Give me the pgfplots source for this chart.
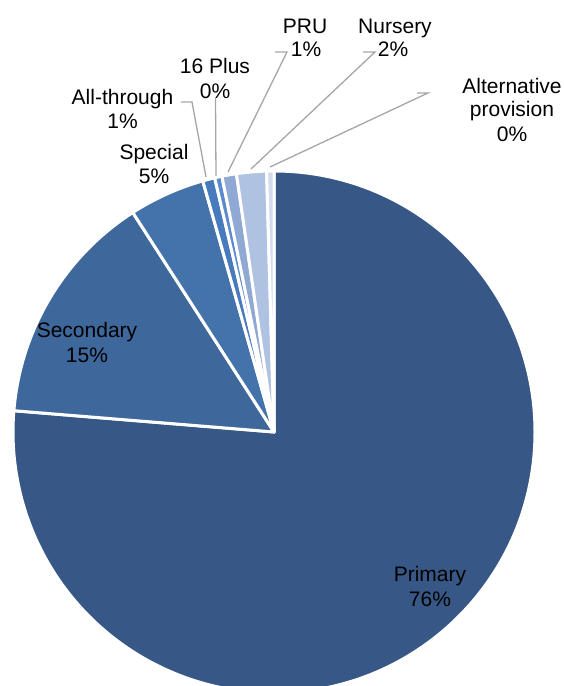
\documentclass[border=0pt]{standalone}
\usepackage{fontspec}
\setmainfont{Liberation Sans}
\usepackage{pgfplots}
\usepackage{pgfplotstable}
\pgfplotsset{compat=1.18}
\definecolor{pie0}{RGB}{55,88,134}
\definecolor{pie1}{RGB}{62,104,156}
\definecolor{pie2}{RGB}{68,114,170}
\definecolor{pie3}{RGB}{72,122,190}
\definecolor{pie4}{RGB}{92,138,204}
\definecolor{pie5}{RGB}{143,168,212}
\definecolor{pie6}{RGB}{176,194,226}
\definecolor{pie7}{RGB}{210,220,238}
\definecolor{leader}{RGB}{166,166,166}
\tikzset{lbl/.style={font=\fontsize{21}{24}\selectfont,inner sep=0pt,anchor=base,text=black,yshift=-2pt}}
\pgfplotstableread{
name value
Primary 76.3
Secondary 14.6
Special 4.7
All-through 0.75
16Plus 0.45
PRU 0.9
Nursery 1.85
Alternative 0.45
}\piedata
\begin{document}
\begin{tikzpicture}
\useasboundingbox (0,0) rectangle (563pt,686pt);
\begin{axis}[x=1pt,y=1pt,xmin=0,xmax=563,ymin=0,ymax=686,hide axis,clip=false,
  at={(0,0)},anchor=origin]
\pgfplotstablegetrowsof{\piedata}
\pgfmathtruncatemacro\N{\pgfplotsretval-1}
\def\cum{0}
\pgfplotsforeachungrouped \i in {0,...,\N}{%
  \pgfplotstablegetelem{\i}{value}\of\piedata
  \let\v\pgfplotsretval
  \pgfmathsetmacro\a{90-3.6*\cum}%
  \pgfmathsetmacro\b{90-3.6*(\cum+\v)}%
  \pgfmathsetmacro\cum{\cum+\v}%
  \edef\temp{\noexpand\fill[pie\i,draw=white,line width=3pt,line join=round]
    (axis cs:274,254) -- ++(\a:261pt) arc[start angle=\a,end angle=\b,radius=261pt] -- cycle;}%
  \temp
}
% leader lines
\addplot[leader,line width=1.3pt] coordinates {(181,584) (192,584) (206,509)};
\addplot[leader,line width=1.3pt] coordinates {(215.5,588) (216,510)};
\addplot[leader,line width=1.3pt] coordinates {(275,634) (287,634) (228,514)};
\addplot[leader,line width=1.3pt] coordinates {(363,634) (375,634) (251,517)};
\addplot[leader,line width=1.3pt] coordinates {(417,593) (428,593) (270,519)};
% labels
\node[lbl] at (axis cs:430,106) {Primary};
\node[lbl] at (axis cs:430,81) {76\%};
\node[lbl] at (axis cs:87,350) {Secondary};
\node[lbl] at (axis cs:87,325) {15\%};
\node[lbl] at (axis cs:154,528) {Special};
\node[lbl] at (axis cs:154,504) {5\%};
\node[lbl] at (axis cs:122.5,583) {All-through};
\node[lbl] at (axis cs:122.5,559) {1\%};
\node[lbl] at (axis cs:215,614) {16 Plus};
\node[lbl] at (axis cs:215,589) {0\%};
\node[lbl] at (axis cs:305,654) {PRU};
\node[lbl] at (axis cs:306,631) {1\%};
\node[lbl] at (axis cs:395,654) {Nursery};
\node[lbl] at (axis cs:393,631) {2\%};
\node[lbl] at (axis cs:512,594) {Alternative};
\node[lbl] at (axis cs:512,571) {provision};
\node[lbl] at (axis cs:512,546) {0\%};
\end{axis}
\end{tikzpicture}
\end{document}
